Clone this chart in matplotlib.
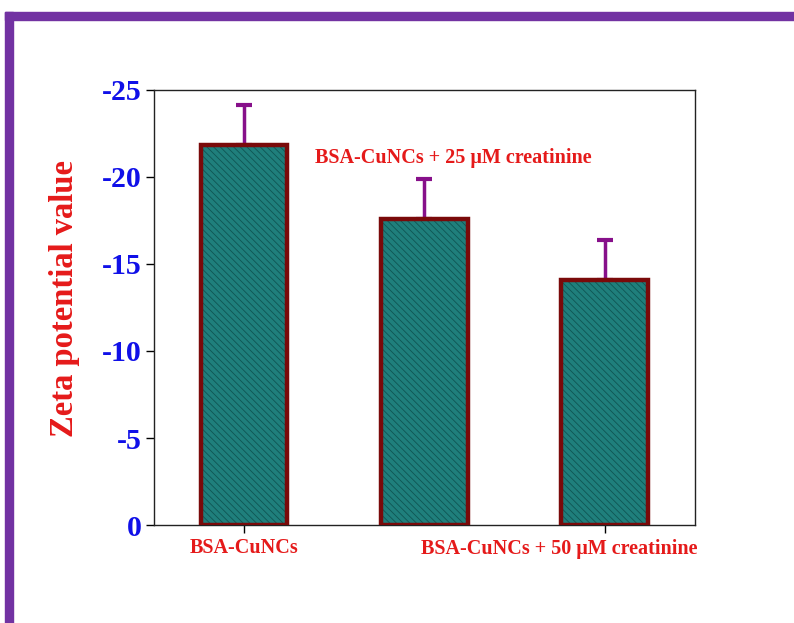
import numpy as np
import matplotlib
matplotlib.use("Agg")
import matplotlib.pyplot as plt
from matplotlib.patches import Rectangle

# zeta potential (mV) and standard deviation
samples = ["BSA-CuNCs", "BSA-CuNCs + 25 \u03bcM creatinine", "BSA-CuNCs + 50 \u03bcM creatinine"]
zeta = [-21.8, -17.6, -14.1]
zeta_sd = [2.3, 2.3, 2.3]
yticks = [0, -5, -10, -15, -20, -25]

plt.rcParams['font.family'] = ['Liberation Serif', 'DejaVu Serif']
plt.rcParams['font.weight'] = 'bold'
plt.rcParams['hatch.linewidth'] = 0.6

fig = plt.figure(figsize=(7.94, 6.23), dpi=100)
ax = fig.add_axes([0.194, 0.157, 0.681, 0.699])

# purple frame around the panel
fig.patches.append(Rectangle((5/794, 0), 8/794, 1 - 12/623, transform=fig.transFigure,
                             color='#7232a2', zorder=0))
fig.patches.append(Rectangle((5/794, 1 - 20/623), 1, 8/623, transform=fig.transFigure,
                             color='#7232a2', zorder=0))

x = np.arange(len(samples))
# hatched teal fill, then dark red outline on top
ax.bar(x, zeta, width=0.48, color='#1f7f7c', edgecolor='#0f5553', hatch='\\\\\\\\\\',
       linewidth=0, zorder=2)
ax.bar(x, zeta, width=0.48, facecolor='none', edgecolor='#7a0a0a', linewidth=3.2,
       zorder=3)
ax.errorbar(x, zeta, yerr=[zeta_sd, [0] * len(zeta)], fmt='none', ecolor='#87108a',
            elinewidth=2.5, capsize=6, capthick=3, zorder=1)

ax.set_xlim(-0.5, 2.5)
ax.set_ylim(0, -25)
ax.set_yticks(yticks)
ax.set_yticklabels([str(t) for t in yticks], color='#1010e8', fontsize=21.5, fontweight='bold')
ax.set_ylabel("Zeta potential value", color='#e51a1a', fontsize=23.5, fontweight='bold')
ax.yaxis.set_label_coords(-0.137, 0.52)

ax.set_xticks([0, 2])
ax.set_xticklabels([samples[0], ""], color='#e51a1a', fontsize=14.5, fontweight='bold')
# last category name sits left of its tick
ax.text(1.75, -0.055, samples[2], transform=ax.get_xaxis_transform(), color='#e51a1a',
        fontsize=14.5, fontweight='bold', ha='center', va='center')

ax.text(1.16, -21.1, samples[1], color='#e51a1a', fontsize=14.5, fontweight='bold',
        ha='center', va='center')

for s in ax.spines.values():
    s.set_linewidth(1.0)
    s.set_color('#222222')
ax.tick_params(axis='both', direction='out', length=6, width=1, pad=3)

fig.savefig("out.png", dpi=100)
